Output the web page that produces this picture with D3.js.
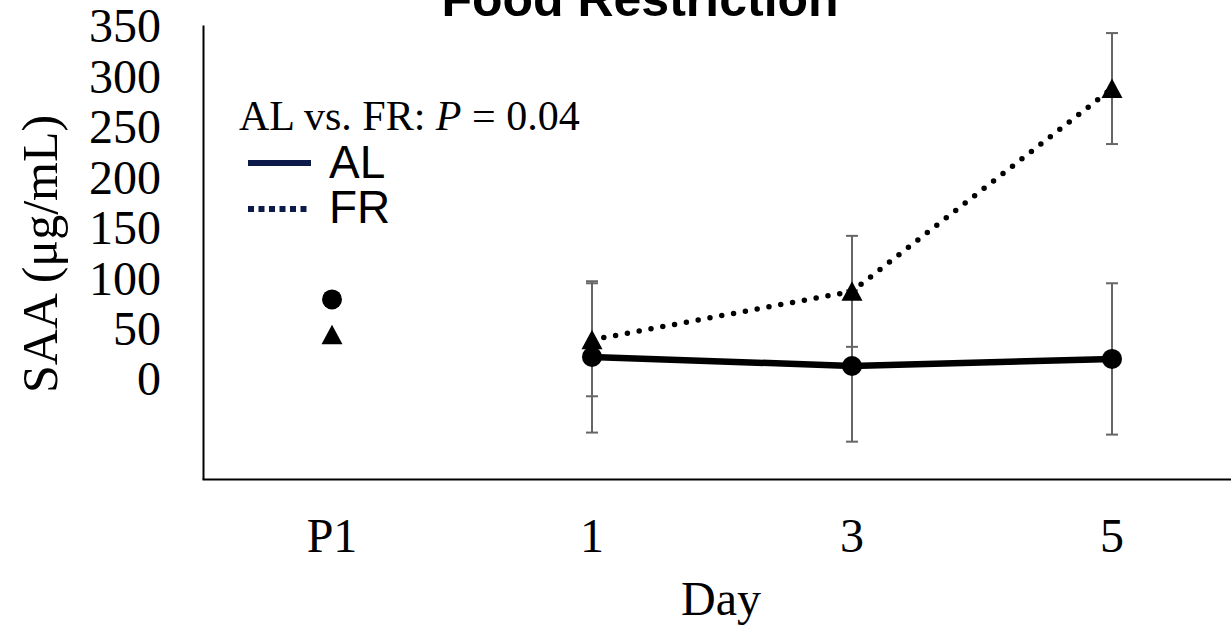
<!DOCTYPE html>
<html>
<head>
<meta charset="utf-8">
<script src="https://cdn.jsdelivr.net/npm/d3@7"></script>
<style>
  html, body { margin: 0; padding: 0; background: #fff; }
  svg { display: block; }
</style>
</head>
<body>
<svg id="chart" width="1231" height="627"></svg>
<script>
// Sampling days
const categories = ["P1", "1", "3", "5"];
// Ad libitum group: mean and error (μg/mL)
const alMean = [78, 21, 12, 19];
const alErr  = [null, 75, 75, 75];
// Food-restricted group: mean and error (μg/mL)
const frMean = [43, 38, 86, 287];
const frErr  = [null, 56, 55, 55];
// Y tick labels shown
const yTicks = [0, 50, 100, 150, 200, 250, 300, 350];

const svg = d3.select("#chart");
const serif = "'Liberation Serif', 'Times New Roman', serif";
const sans = "'Liberation Sans', Arial, sans-serif";

const x = d3.scaleBand().domain(categories).range([202, 1242]);
const cx = c => x(c) + x.bandwidth() / 2;
const y = d3.scaleLinear().domain([-100, 350]).range([479, 25]);

// Title
svg.append("text")
  .attr("x", 640).attr("y", 16)
  .attr("text-anchor", "middle")
  .style("font-family", sans).style("font-weight", "bold").style("font-size", "50px")
  .text("Food Restriction");

// Y axis
const gy = svg.append("g").attr("transform", "translate(203,0)")
  .call(d3.axisLeft(y).tickValues(yTicks).tickSize(0).tickPadding(42));
gy.select(".domain").attr("stroke", "#000").attr("stroke-width", 2);
gy.selectAll("text").style("font-family", serif).style("font-size", "48px").attr("fill", "#000")
  .attr("dy", "0.35em");

// X axis
const gx = svg.append("g").attr("transform", "translate(0,479)")
  .call(d3.axisBottom(x).tickSize(0));
gx.select(".domain").attr("stroke", "#000").attr("stroke-width", 2);
gx.selectAll("text").style("font-family", serif).style("font-size", "48px").attr("fill", "#000")
  .attr("y", 73).attr("dy", "0");

// Axis titles
svg.append("text")
  .attr("transform", "translate(57,254) rotate(-90)")
  .attr("text-anchor", "middle")
  .style("font-family", serif).style("font-size", "50px")
  .text("SAA (μg/mL)");
svg.append("text")
  .attr("x", 721).attr("y", 615)
  .attr("text-anchor", "middle")
  .style("font-family", serif).style("font-size", "48px")
  .text("Day");

// Error bars
function errorBars(means, errs) {
  const rows = categories.map((c, i) => ({ c, m: means[i], e: errs[i] })).filter(d => d.e != null);
  const g = svg.append("g").attr("stroke", "#666").attr("stroke-width", 2);
  rows.forEach(d => {
    const px = cx(d.c);
    g.append("line").attr("x1", px).attr("x2", px).attr("y1", y(d.m - d.e)).attr("y2", y(d.m + d.e));
    [d.m - d.e, d.m + d.e].forEach(v => {
      g.append("line").attr("x1", px - 6).attr("x2", px + 6).attr("y1", y(v)).attr("y2", y(v));
    });
  });
}
errorBars(alMean, alErr);
errorBars(frMean, frErr);

// Lines (days 1–5 only)
const line = d3.line().x(d => cx(d.c)).y(d => y(d.m));
const dayRows = (means) => categories.map((c, i) => ({ c, m: means[i] })).filter(d => d.c !== "P1");

svg.append("path").datum(dayRows(frMean))
  .attr("d", line).attr("fill", "none").attr("stroke", "#000")
  .attr("stroke-width", 5.5).attr("stroke-linecap", "round").attr("stroke-dasharray", "0 12");
svg.append("path").datum(dayRows(alMean))
  .attr("d", line).attr("fill", "none").attr("stroke", "#000").attr("stroke-width", 6.5);

// Markers
svg.append("g").selectAll("circle")
  .data(categories.map((c, i) => ({ c, m: alMean[i] })))
  .join("circle")
  .attr("cx", d => cx(d.c)).attr("cy", d => y(d.m)).attr("r", 10).attr("fill", "#000");
svg.append("g").selectAll("path")
  .data(categories.map((c, i) => ({ c, m: frMean[i] })))
  .join("path")
  .attr("d", d => {
    const px = cx(d.c), py = y(d.m);
    return `M${px},${py - 10}L${px + 10.5},${py + 9.5}L${px - 10.5},${py + 9.5}Z`;
  })
  .attr("fill", "#000");

// Legend
const leg = svg.append("g");
const pText = leg.append("text").attr("x", 239).attr("y", 130)
  .style("font-family", serif).style("font-size", "42px");
pText.append("tspan").text("AL vs. FR: ");
pText.append("tspan").style("font-style", "italic").text("P");
pText.append("tspan").text(" = 0.04");

leg.append("line").attr("x1", 248).attr("x2", 311).attr("y1", 163).attr("y2", 163)
  .attr("stroke", "#0c1a4a").attr("stroke-width", 6);
leg.append("text").attr("x", 329).attr("y", 178)
  .style("font-family", sans).style("font-size", "46px").text("AL");
leg.append("line").attr("x1", 248).attr("x2", 311).attr("y1", 209).attr("y2", 209)
  .attr("stroke", "#0c1a4a").attr("stroke-width", 6).attr("stroke-dasharray", "6 4.5");
leg.append("text").attr("x", 329).attr("y", 223)
  .style("font-family", sans).style("font-size", "46px").text("FR");
</script>
</body>
</html>
